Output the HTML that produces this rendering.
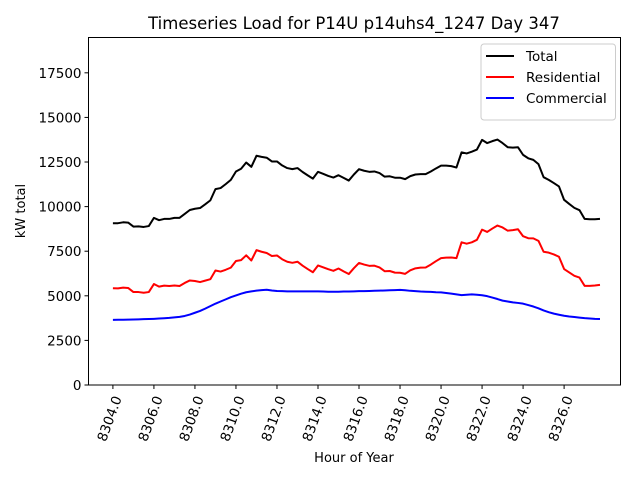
<!DOCTYPE html>
<html><head><meta charset="utf-8"><style>body{margin:0;background:#fff}svg{display:block;font-family:"DejaVu Sans","Liberation Sans",sans-serif}</style></head>
<body>
<svg id="chart" width="640" height="480" viewBox="0 0 640 480" xmlns="http://www.w3.org/2000/svg">
<rect width="640" height="480" fill="#fff"/>
<text x="354" y="29" text-anchor="middle" font-size="16.5">Timeseries Load for P14U p14uhs4_1247  Day 347</text>
<g id="grid"></g>
<g id="lines"></g>
<rect x="88.5" y="37.5" width="532" height="347.5" fill="none" stroke="#000" stroke-width="1"/>
<g id="axes"></g>
<text x="354" y="462" text-anchor="middle" font-size="13">Hour of Year</text>
<text transform="translate(25,211) rotate(-90)" text-anchor="middle" font-size="13">kW total</text>
<g>
<rect x="481" y="44" width="134.5" height="76" rx="3" fill="#fff" fill-opacity="0.8" stroke="#ccc"/>
<line x1="486" y1="56" x2="514" y2="56" stroke="#000" stroke-width="2"/>
<text x="526" y="61" font-size="13.5">Total</text>
<line x1="486" y1="77" x2="514" y2="77" stroke="#f00" stroke-width="2"/>
<text x="526" y="82" font-size="13.5">Residential</text>
<line x1="486" y1="98" x2="514" y2="98" stroke="#00f" stroke-width="2"/>
<text x="526" y="103" font-size="13.5">Commercial</text>
</g>
</svg>
<script>
const totalValues=[9070,9070,9120,9100,8880,8890,8860,8910,9370,9240,9310,9310,9370,9370,9590,9810,9880,9920,10130,10350,10980,11040,11260,11500,11970,12120,12470,12230,12850,12790,12740,12530,12530,12310,12160,12100,12160,11940,11750,11570,11950,11840,11720,11630,11760,11610,11460,11800,12100,12010,11950,11970,11880,11680,11700,11620,11620,11540,11710,11800,11820,11820,11970,12140,12300,12300,12270,12190,13040,12980,13080,13200,13740,13560,13670,13760,13560,13330,13310,13330,12900,12710,12620,12380,11650,11500,11320,11130,10380,10150,9930,9800,9310,9290,9290,9310];
const residentialValues=[5420,5415,5460,5435,5210,5210,5170,5210,5660,5515,5570,5550,5580,5550,5720,5860,5830,5770,5850,5930,6420,6360,6460,6580,6950,7000,7270,6980,7560,7470,7400,7230,7260,7050,6910,6850,6910,6690,6500,6320,6700,6600,6490,6400,6530,6370,6220,6550,6840,6750,6680,6690,6590,6380,6390,6300,6290,6230,6430,6540,6580,6590,6750,6940,7110,7140,7150,7110,8000,7920,8000,8140,8710,8580,8770,8940,8830,8650,8680,8730,8340,8230,8220,8080,7470,7420,7320,7190,6500,6310,6120,6020,5560,5560,5580,5610];
const commercialValues=[3650,3655,3660,3665,3670,3680,3690,3700,3710,3725,3740,3760,3790,3820,3870,3950,4050,4150,4280,4420,4560,4680,4800,4920,5020,5120,5200,5250,5290,5320,5340,5300,5270,5260,5250,5250,5250,5250,5250,5250,5250,5240,5230,5230,5230,5240,5240,5250,5260,5260,5270,5280,5290,5300,5310,5320,5330,5310,5280,5260,5240,5230,5220,5200,5190,5160,5120,5080,5040,5060,5080,5060,5030,4980,4900,4820,4730,4680,4630,4600,4560,4480,4400,4300,4180,4080,4000,3940,3880,3840,3810,3780,3750,3730,3710,3700];
const startHour=8304;
const stepHours=0.25;
const xTickLabels=["8304.0","8306.0","8308.0","8310.0","8312.0","8314.0","8316.0","8318.0","8320.0","8322.0","8324.0","8326.0"];
const yTickValues=[0,2500,5000,7500,10000,12500,15000,17500];

const NS="http://www.w3.org/2000/svg";
const X0=88.5,X1=620.5,Y0=385,Y1=37.5;
const xMin=8302.81,xMax=8328.75,yMin=0,yMax=19480;
function xs(h){return X0+(h-xMin)/(xMax-xMin)*(X1-X0);}
function ys(v){return Y0-(v-yMin)/(yMax-yMin)*(Y0-Y1);}
function mk(tag,attrs,parent){const e=document.createElementNS(NS,tag);for(const k in attrs)e.setAttribute(k,attrs[k]);parent.appendChild(e);return e;}
const axes=document.getElementById('axes');
const lines=document.getElementById('lines');
xTickLabels.forEach(function(lbl){
  const h=parseFloat(lbl),x=xs(h);
  const t=mk('line',{x1:x,y1:Y0,x2:x,y2:Y0+4,stroke:'#000'},axes);
  
  
  const tx=mk('text',{transform:'translate('+(x+9)+','+(Y0+13)+') rotate(-70)','text-anchor':'end','font-size':'13.5'},axes);
  
  
  tx.textContent=lbl;
});
yTickValues.forEach(function(v){
  const y=ys(v);
  const t=mk('line',{x1:X0-4,y1:y,x2:X0,y2:y,stroke:'#000'},axes);
  
  
  const tx=mk('text',{x:X0-7,y:y+5,'text-anchor':'end','font-size':'13.5'},axes);
  
  
  tx.textContent=String(v);
});
function series(vals,color,name){
  const pts=vals.map(function(v,i){return xs(startHour+i*stepHours).toFixed(2)+','+ys(v).toFixed(2);}).join(' ');
  const p=mk('polyline',{points:pts,fill:'none',stroke:color,'stroke-width':2,'stroke-linejoin':'round'},lines);
  
  
}
series(totalValues,'#000','total-line');
series(residentialValues,'#f00','residential-line');
series(commercialValues,'#00f','commercial-line');
</script>
</body></html>
